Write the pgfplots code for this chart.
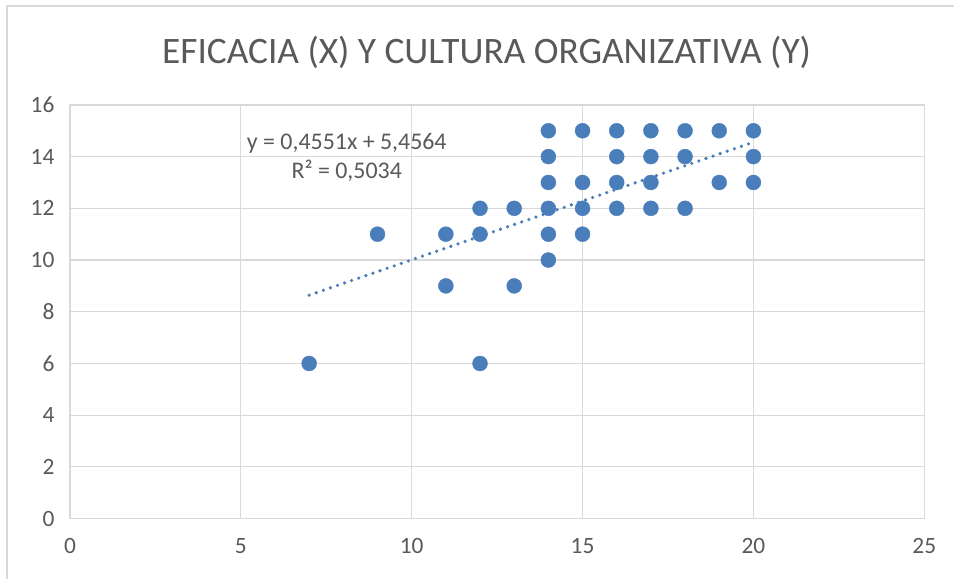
\documentclass[border=0pt]{standalone}
\usepackage{fontspec}
\setmainfont{Carlito}
\usepackage{pgfplots}
\pgfplotsset{compat=1.18}
\definecolor{excelblue}{RGB}{74,126,187}
\definecolor{gridgray}{RGB}{217,217,217}
\definecolor{textgray}{RGB}{89,89,89}

\begin{document}
\begin{tikzpicture}[x=1bp,y=1bp]
% page frame and chart border
\path (0,0) rectangle (955,579);
\draw[gridgray, line width=1.5bp] (7,0) -- (7,573) -- (955,573);
\node[textgray, font=\fontsize{37.5}{44}\selectfont] at (487,527) {EFICACIA (X) Y CULTURA ORGANIZATIVA (Y)};
\begin{axis}[
    at={(70bp,60bp)}, anchor=south west,
    scale only axis,
    width=855bp, height=414bp,
    xmin=0, xmax=25, ymin=0, ymax=16,
    xtick={0,5,...,25},
    ytick={0,2,...,16},
    grid=major,
    grid style={gridgray, line width=1.2bp},
    axis line style={gridgray, line width=1.2bp},
    tick style={draw=none},
    ticklabel style={font=\fontsize{23.5}{28}\selectfont, text=textgray},
    /pgf/number format/assume math mode=true,
    yticklabel style={xshift=-12bp},
    xticklabel style={yshift=-16bp},
    clip=false
]
% linear trendline (Excel): y = 0,4551x + 5,4564 over x = 7..20
\addplot[excelblue, line width=3.6bp, line cap=round, dash pattern=on 0bp off 7.5bp] coordinates {
    (7,8.6421) (20,14.5584)
};
\addplot[only marks, mark=*, mark size=7.5bp, mark options={fill=excelblue, draw=excelblue}] coordinates {
    (7,6) (9,11) (11,11) (11,9) (12,12) (12,11) (12,6)
    (13,12) (13,9)
    (14,15) (14,14) (14,13) (14,12) (14,11) (14,10)
    (15,15) (15,13) (15,12) (15,11)
    (16,15) (16,14) (16,13) (16,12)
    (17,15) (17,14) (17,13) (17,12)
    (18,15) (18,14) (18,12)
    (19,15) (19,13)
    (20,15) (20,14) (20,13)
};
\node[textgray, font=\fontsize{24}{28}\selectfont] at (axis cs:8.1,14.53) {y = 0,4551x + 5,4564};
\node[textgray, font=\fontsize{24}{28}\selectfont] at (axis cs:8.1,13.45) {R² = 0,5034};
\end{axis}
\end{tikzpicture}
\end{document}
